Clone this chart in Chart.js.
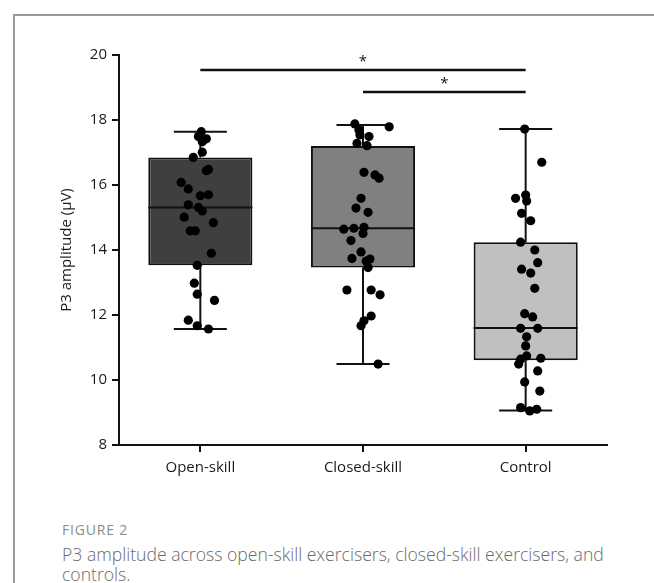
<!DOCTYPE html>
<html lang="en">
<head>
<meta charset="UTF-8">
<title>P3 amplitude</title>
<script src="https://cdn.jsdelivr.net/npm/chart.js"></script>
<style>
  body { margin: 0; background: #fff; width: 654px; height: 583px; overflow: hidden; position: relative; }
  #frame { position: absolute; left: 13px; top: 14px; width: 700px; height: 700px; border: 2px solid #9a9a9a; border-right: none; border-bottom: none; }
  #chart { position: absolute; left: 0; top: 0; }
  .fig { position: absolute; left: 62px; top: 520px; font-family: "Open Sans", sans-serif; font-size: 14px; color: #8c8c8c; letter-spacing: 0.8px; }
  .cap { position: absolute; left: 62px; top: 544px; width: 560px; font-family: "Open Sans", sans-serif; font-size: 17.6px; line-height: 20px; color: #6a6a6a; font-weight: 300; }
</style>
</head>
<body>
<div id="frame"></div>
<canvas id="chart" width="654" height="500"></canvas>
<div class="fig">FIGURE 2</div>
<div class="cap">P3 amplitude across open-skill exercisers, closed-skill exercisers, and controls.</div>

<script>
// groups
const categories = ['Open-skill', 'Closed-skill', 'Control'];
const boxColors = ['#3f3f3f', '#808080', '#c0c0c0'];

// box summary
const boxQ1 = [13.53, 13.46, 10.61];
const boxMedian = [15.31, 14.67, 11.60];
const boxQ3 = [16.85, 17.20, 14.24];
const whiskerMin = [11.57, 10.49, 9.06];
const whiskerMax = [17.64, 17.85, 17.72];

// individual values (µV) with horizontal jitter (in category units)
const openSkill = [17.64, 17.49, 17.42, 17.33, 17.01, 16.85, 16.48, 16.44, 16.08, 15.88, 15.70, 15.67, 15.39, 15.31, 15.20, 15.01, 14.84, 14.59, 14.59, 13.90, 13.53, 12.98, 12.64, 12.45, 11.84, 11.67, 11.57];
const openJitter = [0.006, -0.012, 0.037, 0.012, 0.012, -0.043, 0.050, 0.037, -0.118, -0.074, 0.050, 0, -0.074, -0.012, 0.012, -0.099, 0.080, -0.062, -0.031, 0.068, -0.019, -0.037, -0.019, 0.087, -0.074, -0.019, 0.050];

const closedSkill = [17.88, 17.79, 17.69, 17.54, 17.49, 17.28, 17.21, 16.39, 16.31, 16.21, 15.59, 15.29, 15.16, 14.70, 14.67, 14.64, 14.51, 14.29, 13.94, 13.74, 13.72, 13.66, 13.46, 12.77, 12.77, 12.62, 11.97, 11.82, 11.67, 10.49];
const closedJitter = [-0.050, 0.161, -0.025, -0.019, 0.037, -0.037, 0.025, 0.006, 0.074, 0.099, -0.012, -0.043, 0.031, 0.006, -0.056, -0.118, 0, -0.074, -0.012, -0.068, 0.043, 0.019, 0.031, -0.099, 0.050, 0.105, 0.050, 0.006, -0.012, 0.093];

const control = [17.72, 16.70, 15.69, 15.59, 15.51, 15.13, 14.90, 14.24, 14.00, 13.61, 13.41, 13.29, 12.82, 12.04, 11.94, 11.59, 11.59, 11.33, 11.05, 10.74, 10.67, 10.64, 10.49, 10.28, 9.94, 9.66, 9.15, 9.10, 9.05];
const controlJitter = [-0.006, 0.099, 0, -0.062, 0.006, -0.025, 0.031, -0.031, 0.056, 0.074, -0.025, 0.031, 0.056, -0.006, 0.043, -0.031, 0.074, 0.006, 0, 0.006, 0.093, -0.031, -0.043, 0.074, -0.006, 0.087, -0.031, 0.068, 0.025];

// significance brackets
const sigFrom = [1, 2];
const sigTo = [3, 3];
const sigLevel = [19.54, 18.86];
const sigLabel = ['*', '*'];

const yTicks = [8, 10, 12, 14, 16, 18, 20];

const groupValues = [openSkill, closedSkill, control];
const groupJitter = [openJitter, closedJitter, controlJitter];

const boxHalf = 0.32;
const capHalf = 0.163;
const gap = { x: NaN, y: NaN };

const points = [];
groupValues.forEach((vals, g) => {
  vals.forEach((v, k) => points.push({ x: g + 1 + groupJitter[g][k], y: v }));
});

const whiskers = [];
categories.forEach((c, i) => {
  const x = i + 1;
  whiskers.push({ x, y: whiskerMin[i] }, { x, y: boxQ1[i] }, gap);
  whiskers.push({ x, y: boxQ3[i] }, { x, y: whiskerMax[i] }, gap);
  whiskers.push({ x: x - capHalf, y: whiskerMin[i] }, { x: x + capHalf, y: whiskerMin[i] }, gap);
  whiskers.push({ x: x - capHalf, y: whiskerMax[i] }, { x: x + capHalf, y: whiskerMax[i] }, gap);
  whiskers.push({ x: x - boxHalf, y: boxMedian[i] }, { x: x + boxHalf, y: boxMedian[i] }, gap);
});

const brackets = [];
sigFrom.forEach((a, i) => {
  brackets.push({ x: a, y: sigLevel[i] }, { x: sigTo[i], y: sigLevel[i] }, gap);
});

const starPlugin = {
  id: 'stars',
  afterDatasetsDraw(chart) {
    const { ctx, scales } = chart;
    ctx.save();
    ctx.font = '15px "Open Sans", sans-serif';
    ctx.fillStyle = '#111';
    ctx.textAlign = 'center';
    ctx.textBaseline = 'middle';
    sigFrom.forEach((a, i) => {
      const px = scales.x.getPixelForValue((a + sigTo[i]) / 2);
      const py = scales.y.getPixelForValue(sigLevel[i]) - 8;
      ctx.fillText(sigLabel[i], px, py);
    });
    ctx.restore();
  }
};

const tickFont = { family: '"Open Sans", sans-serif', size: 15 };

new Chart(document.getElementById('chart').getContext('2d'), {
  type: 'scatter',
  data: {
    datasets: [
      {
        type: 'scatter',
        data: points,
        backgroundColor: '#000',
        borderWidth: 0,
        pointRadius: 4.6,
        order: 0
      },
      {
        type: 'scatter',
        data: whiskers,
        showLine: true,
        spanGaps: false,
        borderColor: '#111',
        borderWidth: 2,
        pointRadius: 0,
        order: 1
      },
      {
        type: 'scatter',
        data: brackets,
        showLine: true,
        spanGaps: false,
        borderColor: '#111',
        borderWidth: 2.5,
        pointRadius: 0,
        order: 1
      },
      {
        type: 'bar',
        data: categories.map((c, i) => ({ x: i + 1, y: [boxQ1[i], boxQ3[i]] })),
        backgroundColor: boxColors,
        borderColor: '#111',
        borderWidth: 2,
        borderSkipped: false,
        barPercentage: 0.64,
        categoryPercentage: 1,
        order: 2
      }
    ]
  },
  options: {
    responsive: false,
    animation: false,
    layout: { padding: { left: 50, top: 55, right: 47, bottom: 0 } },
    plugins: { legend: { display: false }, tooltip: { enabled: false } },
    scales: {
      x: {
        type: 'linear',
        min: 0.5,
        max: 3.5,
        offset: false,
        afterBuildTicks: s => { s.ticks = categories.map((c, i) => ({ value: i + 1 })); },
        afterFit: s => { s.height = 55; },
        ticks: {
          callback: v => categories[v - 1],
          font: tickFont,
          color: '#1a1a1a',
          padding: 7,
          autoSkip: false,
          maxRotation: 0
        },
        grid: { offset: false, drawOnChartArea: false, tickLength: 7, color: '#111', lineWidth: 2 },
        border: { color: '#111', width: 2 }
      },
      y: {
        min: 8,
        max: 20,
        afterBuildTicks: s => { s.ticks = yTicks.map(v => ({ value: v })); },
        afterFit: s => { s.width = 69; },
        ticks: { font: tickFont, color: '#1a1a1a', padding: 5 },
        grid: { drawOnChartArea: false, tickLength: 7, color: '#111', lineWidth: 2 },
        border: { color: '#111', width: 2 },
        title: {
          display: true,
          text: 'P3 amplitude (μV)',
          font: tickFont,
          color: '#1a1a1a',
          padding: { top: 8, bottom: 0 }
        }
      }
    }
  },
  plugins: [starPlugin]
});
</script>
</body>
</html>
